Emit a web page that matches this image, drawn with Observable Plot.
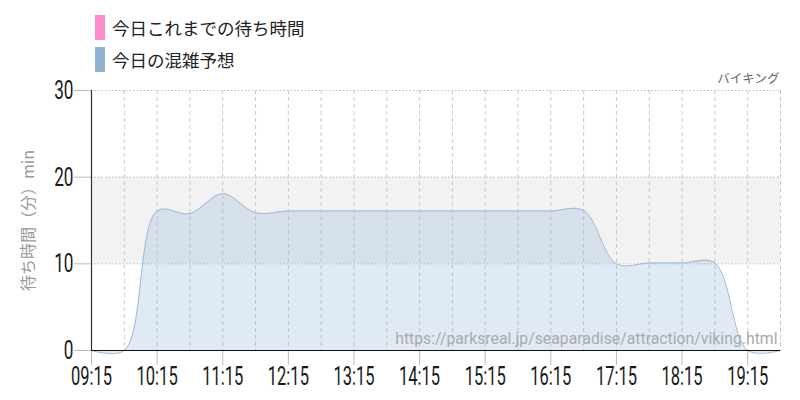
<!DOCTYPE html>
<html>
<head>
<meta charset="utf-8">
<script src="https://cdn.jsdelivr.net/npm/d3@7"></script>
<script src="https://cdn.jsdelivr.net/npm/@observablehq/plot@0.6"></script>
<style>
  body { margin: 0; background: #fff; font-family: "Noto Sans CJK JP", "Noto Sans", sans-serif; }
  #wrap { width: 800px; }
  #legend { position: relative; height: 60px; }
  .sw { position: absolute; left: 95px; width: 10px; height: 25px; }
  .lt { position: absolute; left: 112px; font-size: 17.5px; color: #222; line-height: 25px; }
</style>
</head>
<body>
<div id="wrap">
  <div id="legend"></div>
  <div id="chart"></div>
</div>
<script>
// ---- data ----
const legendLabels = ["今日これまでの待ち時間", "今日の混雑予想"];
const legendColors = ["#ff8ccb", "#8fb2d0"];
const attractionName = "バイキング";
const yLabel = "待ち時間（分）min";
const sourceUrl = "https://parksreal.jp/seaparadise/attraction/viking.html";

const times = ["09:15","09:45","10:15","10:45","11:15","11:45","12:15","12:45","13:15","13:45","14:15","14:45",
               "15:15","15:45","16:15","16:45","17:15","17:45","18:15","18:45","19:15","19:45"];
const forecast = [0, 0, 16.1, 15.8, 18.1, 15.9, 16.1, 16.1, 16.1, 16.1, 16.1, 16.1,
                  16.1, 16.1, 16.1, 16.15, 10.0, 10.1, 10.1, 10.1, 0, 0];
const xTickLabels = ["09:15","10:15","11:15","12:15","13:15","14:15","15:15","16:15","17:15","18:15","19:15"];
const gridTimes = ["09:45","10:15","10:45","11:15","11:45","12:15","12:45","13:15","13:45","14:15","14:45","15:15",
                   "15:45","16:15","16:45","17:15","17:45","18:15","18:45","19:15","19:45"];
const yTicks = [0, 10, 20, 30];
const band = [10, 20];
const xDomain = ["09:15", "19:45"];

// ---- helpers ----
const toH = s => { const [h, m] = s.split(":").map(Number); return h + m / 60; };
const data = times.map((t, i) => ({ x: toH(t), y: forecast[i] }));

// legend
const leg = document.getElementById("legend");
legendLabels.forEach((lab, i) => {
  const sw = document.createElement("div");
  sw.className = "sw";
  sw.style.top = (15 + i * 32) + "px";
  sw.style.background = legendColors[i];
  leg.appendChild(sw);
  const t = document.createElement("div");
  t.className = "lt";
  t.style.top = (15 + i * 32) + "px";
  t.textContent = lab;
  leg.appendChild(t);
});

const tickFont = "Roboto, 'DejaVu Sans', sans-serif";

const chart = Plot.plot({
  width: 800,
  height: 340,
  marginTop: 30,
  marginBottom: 50,
  marginLeft: 91,
  marginRight: 20,
  x: { domain: xDomain.map(toH) },
  y: { domain: [0, 30] },
  style: { background: "#fff", overflow: "visible" },
  marks: [
    Plot.rect([band], { y1: d => d[0], y2: d => d[1], fill: "#f2f2f2" }),
    Plot.ruleY(yTicks.slice(1), { stroke: "#bbb", strokeDasharray: "1.5,2" }),
    Plot.ruleX(gridTimes.map(toH), { stroke: "#c8c8c8", strokeDasharray: "4,3" }),
    Plot.areaY(data, { x: "x", y: "y", curve: "catmull-rom", fill: "#8fb5d9", fillOpacity: 0.28 }),
    Plot.lineY(data, { x: "x", y: "y", curve: "catmull-rom", stroke: "#9dbad5", strokeWidth: 1 }),
    Plot.axisX(xTickLabels.map(toH), {
      tickFormat: (d, i) => xTickLabels[i], tickSize: 15, tickPadding: 2,
      stroke: "#bbb", color: "#1a1a1a", fontSize: 25, fontFamily: tickFont, fontWeight: 400, label: null
    }),
    Plot.axisY(yTicks, {
      tickSize: 17, tickPadding: 1, stroke: "#bbb", color: "#1a1a1a",
      fontSize: 26, fontFamily: tickFont, fontWeight: 400, label: null
    }),
    Plot.ruleY([0], { stroke: "#111", strokeWidth: 1.2 }),
    Plot.ruleX([toH(xDomain[0])], { stroke: "#333", strokeWidth: 1.2 }),
    Plot.text([yLabel], { frameAnchor: "left", dx: -63, rotate: -90, textAnchor: "middle", fontSize: 16, fill: "#999",
      fontFamily: "'Noto Sans CJK JP', sans-serif" }),
    Plot.text([attractionName], { frameAnchor: "top-right", dx: -1, dy: -12, fontSize: 12.5, fill: "#666",
      textAnchor: "end", lineAnchor: "middle", fontFamily: "'Noto Sans CJK JP', sans-serif" }),
    Plot.text([sourceUrl], { frameAnchor: "bottom-right", dx: -3, dy: -12, fontSize: 15.8, fill: "#aaa",
      textAnchor: "end", lineAnchor: "middle", fontFamily: "Roboto, sans-serif" })
  ]
});
document.getElementById("chart").appendChild(chart);

// condense tick labels horizontally (narrow font look)
const SX = 0.66;
chart.querySelectorAll('g[aria-label="x-axis tick label"] text, g[aria-label="y-axis tick label"] text').forEach(t => {
  const tr = t.getAttribute("transform");
  if (tr) {
    t.setAttribute("transform", tr + ` scale(${SX},1)`);
  } else {
    const x = +(t.getAttribute("x") || 0), y = +(t.getAttribute("y") || 0);
    t.removeAttribute("x"); t.removeAttribute("y");
    t.setAttribute("transform", `translate(${x},${y}) scale(${SX},1)`);
  }
});
</script>
</body>
</html>
